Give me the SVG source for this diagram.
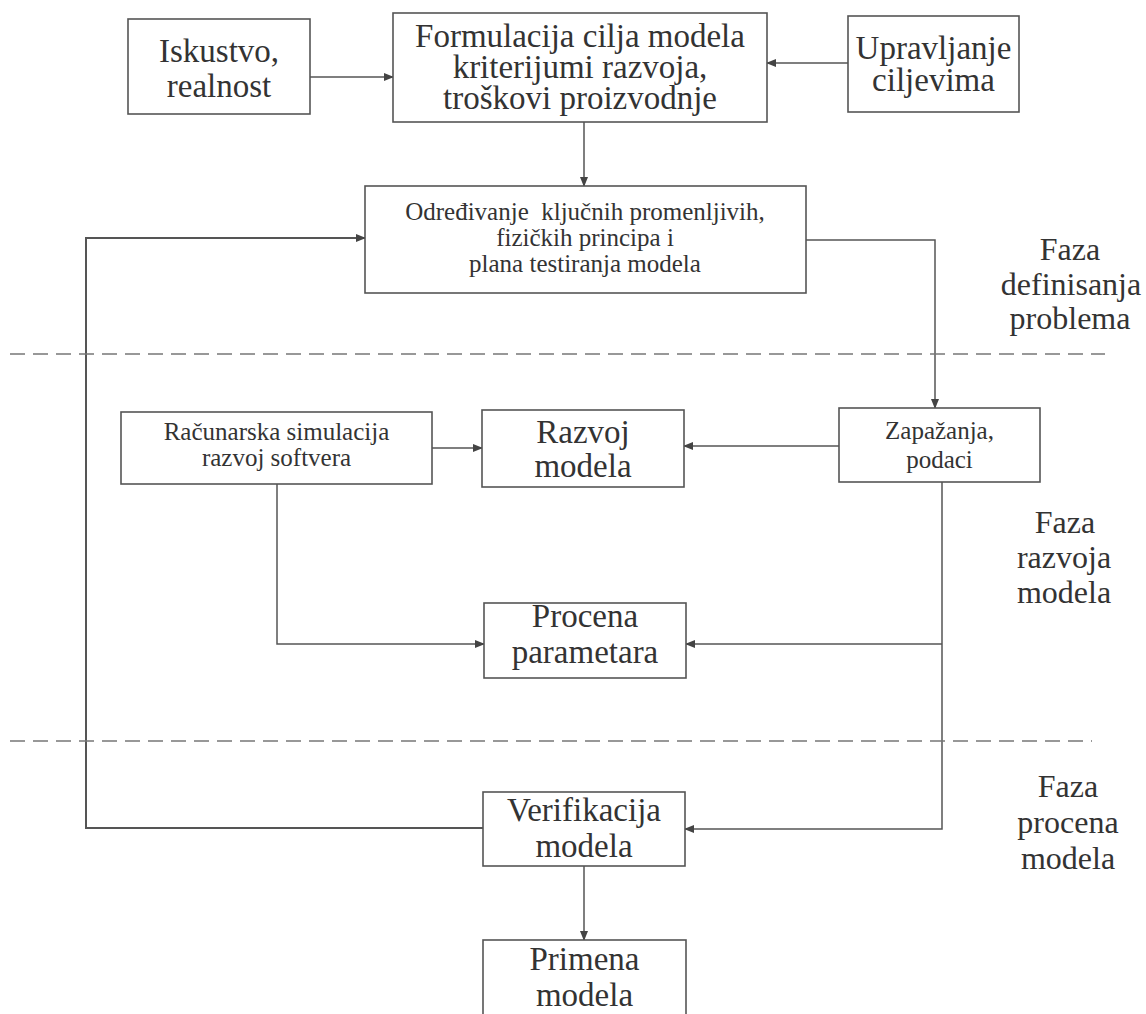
<svg xmlns="http://www.w3.org/2000/svg" width="1146" height="1014" viewBox="0 0 1146 1014">
<defs>
<marker id="ah" markerWidth="10" markerHeight="8" refX="9" refY="4" orient="auto" markerUnits="userSpaceOnUse">
<path d="M0,0 L10,4 L0,8 Z" fill="#444"/>
</marker>
<style>
.box{fill:#fff;stroke:#555;stroke-width:1.6}
text{font-family:'Liberation Serif','Times New Roman','DejaVu Serif',serif;fill:#333;text-anchor:middle}
.big{font-size:33px}
.sm{font-size:25px}
.ph{font-size:32px}
.c{fill:none;stroke:#555;stroke-width:1.5}
.dash{fill:none;stroke:#777;stroke-width:1.6;stroke-dasharray:15 8}
</style>
</defs>
<rect width="1146" height="1014" fill="#fff"/>

<g id="connectors">
<line class="c" x1="310" y1="77" x2="393" y2="77" marker-end="url(#ah)"/>
<line class="c" x1="848" y1="63" x2="767" y2="63" marker-end="url(#ah)"/>
<line class="c" x1="584" y1="122" x2="584" y2="186" marker-end="url(#ah)"/>
<polyline class="c" points="806,240 935,240 935,408" marker-end="url(#ah)"/>
<line class="c" x1="839" y1="446" x2="684" y2="446" marker-end="url(#ah)"/>
<line class="c" x1="432" y1="448" x2="482" y2="448" marker-end="url(#ah)"/>
<polyline class="c" points="277,484 277,644 484,644" marker-end="url(#ah)"/>
<polyline class="c" points="942,482 942,829 685,829" marker-end="url(#ah)"/>
<line class="c" x1="942" y1="644" x2="686" y2="644" marker-end="url(#ah)"/>
<polyline class="c" style="stroke-width:2" points="483,828 86,828 86,238 365,238" marker-end="url(#ah)"/>
<line class="c" x1="584" y1="866" x2="584" y2="940" marker-end="url(#ah)"/>
<line class="dash" x1="10" y1="354" x2="1105" y2="354"/>
<line class="dash" x1="10" y1="741" x2="1092" y2="741"/>
</g>

<g id="n-iskustvo">
<rect class="box" x="128" y="19" width="182" height="95"/>
<text class="big" font-family="Liberation Serif, serif" x="219" y="62">Iskustvo,</text>
<text class="big" font-family="Liberation Serif, serif" x="219" y="97">realnost</text>
</g>

<g id="n-formulacija">
<rect class="box" x="393" y="13" width="374" height="109"/>
<text class="big" font-family="Liberation Serif, serif" x="580" y="47">Formulacija cilja modela</text>
<text class="big" font-family="Liberation Serif, serif" x="580" y="78">kriterijumi razvoja,</text>
<text class="big" font-family="Liberation Serif, serif" x="580" y="109">troškovi proizvodnje</text>
</g>

<g id="n-upravljanje">
<rect class="box" x="848" y="16" width="171" height="96"/>
<text class="big" font-family="Liberation Serif, serif" x="933.5" y="59">Upravljanje</text>
<text class="big" font-family="Liberation Serif, serif" x="933.5" y="91">ciljevima</text>
</g>

<g id="n-odredjivanje">
<rect class="box" x="365" y="186" width="441" height="107"/>
<text class="sm" font-family="Liberation Serif, serif" x="585" y="220" xml:space="preserve">Određivanje  ključnih promenljivih,</text>
<text class="sm" font-family="Liberation Serif, serif" x="585" y="246">fizičkih principa i</text>
<text class="sm" font-family="Liberation Serif, serif" x="585" y="272">plana testiranja modela</text>
</g>

<g id="n-racunarska">
<rect class="box" x="121" y="412" width="311" height="72"/>
<text class="sm" font-family="Liberation Serif, serif" x="276.5" y="440">Računarska simulacija</text>
<text class="sm" font-family="Liberation Serif, serif" x="276.5" y="466">razvoj softvera</text>
</g>

<g id="n-razvoj">
<rect class="box" x="482" y="410" width="202" height="77"/>
<text class="big" font-family="Liberation Serif, serif" x="583" y="443">Razvoj</text>
<text class="big" font-family="Liberation Serif, serif" x="583" y="477">modela</text>
</g>

<g id="n-zapazanja">
<rect class="box" x="839" y="408" width="201" height="74"/>
<text class="sm" font-family="Liberation Serif, serif" x="939.5" y="439">Zapažanja,</text>
<text class="sm" font-family="Liberation Serif, serif" x="939.5" y="468">podaci</text>
</g>

<g id="n-procena">
<rect class="box" x="484" y="603" width="202" height="75"/>
<text class="big" font-family="Liberation Serif, serif" x="585" y="627">Procena</text>
<text class="big" font-family="Liberation Serif, serif" x="585" y="663">parametara</text>
</g>

<g id="n-verifikacija">
<rect class="box" x="483" y="792" width="202" height="74"/>
<text class="big" font-family="Liberation Serif, serif" x="584" y="821">Verifikacija</text>
<text class="big" font-family="Liberation Serif, serif" x="584" y="857">modela</text>
</g>

<g id="n-primena">
<rect class="box" x="483" y="940" width="203" height="80"/>
<text class="big" font-family="Liberation Serif, serif" x="584.5" y="970">Primena</text>
<text class="big" font-family="Liberation Serif, serif" x="584.5" y="1006">modela</text>
</g>

<g id="phase-labels">
<text class="ph" font-family="Liberation Serif, serif" x="1070" y="260">Faza</text>
<text class="ph" font-family="Liberation Serif, serif" x="1071" y="295">definisanja</text>
<text class="ph" font-family="Liberation Serif, serif" x="1070" y="329">problema</text>
<text class="ph" font-family="Liberation Serif, serif" x="1065" y="533">Faza</text>
<text class="ph" font-family="Liberation Serif, serif" x="1064" y="568">razvoja</text>
<text class="ph" font-family="Liberation Serif, serif" x="1064" y="603">modela</text>
<text class="ph" font-family="Liberation Serif, serif" x="1068" y="797">Faza</text>
<text class="ph" font-family="Liberation Serif, serif" x="1068" y="833">procena</text>
<text class="ph" font-family="Liberation Serif, serif" x="1068" y="869">modela</text>
</g>
</svg>
